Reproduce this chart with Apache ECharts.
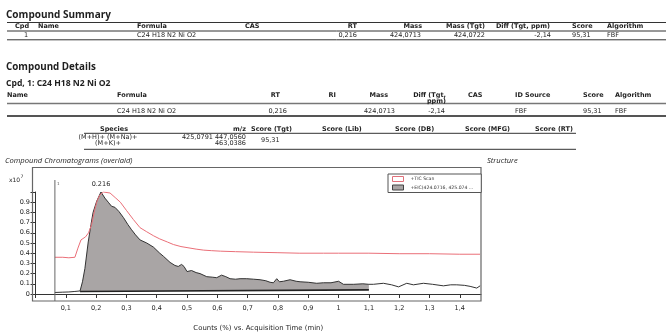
<!DOCTYPE html>
<html>
<head>
<meta charset="utf-8">
<script src="https://cdn.jsdelivr.net/npm/echarts@6/dist/echarts.min.js"></script>
<style>
  html, body { margin: 0; padding: 0; background: #fff; }
  #c { width: 668px; height: 333px; }
</style>
</head>
<body>
<div id="c"></div>
<script>
const FONT = '"DejaVu Sans", Verdana, sans-serif';
const TITLE_FONT = '"Open Sans", "Noto Sans", sans-serif';

// ---- Compound summary table ----
const summaryHeaders = ['Cpd', 'Name', 'Formula', 'CAS', 'RT', 'Mass', 'Mass (Tgt)', 'Diff (Tgt, ppm)', 'Score', 'Algorithm'];
const summaryRow     = ['1', '', 'C24 H18 N2 Ni O2', '', '0,216', '424,0713', '424,0722', '-2,14', '95,31', 'FBF'];

// ---- Compound details table ----
const detailHeaders = ['Name', 'Formula', 'RT', 'RI', 'Mass', 'Diff (Tgt,\nppm)', 'CAS', 'ID Source', 'Score', 'Algorithm'];
const detailRow     = ['', 'C24 H18 N2 Ni O2', '0,216', '', '424,0713', '-2,14', '', 'FBF', '95,31', 'FBF'];

// ---- Species table ----
const speciesHeaders = ['Species', 'm/z', 'Score (Tgt)', 'Score (Lib)', 'Score (DB)', 'Score (MFG)', 'Score (RT)'];
const speciesRow     = ['(M+H)+ (M+Na)+\n(M+K)+', '425,0791 447,0560\n463,0386', '95,31', '', '', '', ''];

// ---- Chromatograms: [acquisition time (min), counts (x10^7)] ----
const ticScan = [
  [0.064, 0.36], [0.09, 0.36], [0.11, 0.355], [0.13, 0.36], [0.14, 0.45], [0.15, 0.53],
  [0.165, 0.56], [0.175, 0.60], [0.185, 0.68], [0.195, 0.82], [0.203, 0.91], [0.212, 0.97],
  [0.224, 1.0], [0.246, 0.99], [0.265, 0.94], [0.28, 0.90], [0.30, 0.82], [0.323, 0.73],
  [0.345, 0.65], [0.367, 0.61], [0.39, 0.57], [0.41, 0.54], [0.435, 0.51], [0.455, 0.485],
  [0.48, 0.465], [0.50, 0.455], [0.53, 0.44], [0.555, 0.43], [0.58, 0.425], [0.61, 0.42],
  [0.66, 0.415], [0.72, 0.41], [0.80, 0.405], [0.87, 0.40], [0.95, 0.40], [1.0, 0.40],
  [1.1, 0.40], [1.2, 0.395], [1.3, 0.395], [1.4, 0.39], [1.467, 0.39]
];
const eic = [
  [0.064, 0.015], [0.09, 0.018], [0.11, 0.02], [0.13, 0.025], [0.147, 0.03], [0.155, 0.12],
  [0.163, 0.25], [0.174, 0.51], [0.183, 0.68], [0.19, 0.80], [0.202, 0.91], [0.216, 1.0],
  [0.229, 0.94], [0.24, 0.90], [0.251, 0.86], [0.262, 0.85], [0.275, 0.81], [0.29, 0.75],
  [0.305, 0.68], [0.317, 0.63], [0.33, 0.58], [0.345, 0.53], [0.367, 0.50], [0.389, 0.46],
  [0.41, 0.40], [0.422, 0.37], [0.444, 0.31], [0.46, 0.28], [0.471, 0.27], [0.482, 0.29],
  [0.49, 0.27], [0.50, 0.22], [0.515, 0.23], [0.53, 0.21], [0.543, 0.20], [0.565, 0.17],
  [0.583, 0.165], [0.598, 0.16], [0.614, 0.185], [0.628, 0.17], [0.642, 0.15], [0.66, 0.145],
  [0.675, 0.15], [0.697, 0.15], [0.72, 0.145], [0.741, 0.14], [0.76, 0.13], [0.774, 0.115],
  [0.785, 0.11], [0.796, 0.15], [0.805, 0.12], [0.818, 0.125], [0.84, 0.14], [0.86, 0.125],
  [0.873, 0.12], [0.90, 0.115], [0.928, 0.105], [0.95, 0.11], [0.975, 0.11], [1.0, 0.125],
  [1.016, 0.095], [1.05, 0.095], [1.08, 0.10], [1.1, 0.095], [1.115, 0.095], [1.148, 0.105],
  [1.175, 0.09], [1.198, 0.07], [1.225, 0.105], [1.247, 0.09], [1.28, 0.105], [1.31, 0.095],
  [1.346, 0.08], [1.37, 0.09], [1.39, 0.09], [1.415, 0.085], [1.434, 0.075], [1.456, 0.058],
  [1.467, 0.08]
];
// integrated peak region and its baseline
const peakStart = 0.147;
const peakEnd = 1.1;
const integrationBaseline = [[0.147, 0.025], [1.1, 0.04]];

const ticName = '+TIC Scan';
const eicName = '+EIC(424.0716, 425.074 ...';

// ---- layout helpers ----
const TXT = '#1e1e1e';
function txt(x, y, text, opt) {
  opt = opt || {};
  return {
    type: 'text', x: x, y: y, z: 50, silent: true,
    style: {
      text: text,
      fontFamily: opt.family || FONT,
      fontSize: opt.size || 6.5,
      fontWeight: opt.bold ? 'bold' : 'normal',
      fontStyle: opt.italic ? 'italic' : 'normal',
      fill: opt.color || TXT,
      align: opt.align || 'left',
      verticalAlign: 'middle',
      lineHeight: opt.lh || 7
    }
  };
}
function rule(x1, x2, y, w, color) {
  return { type: 'line', z: 40, silent: true,
    shape: { x1: x1, y1: y, x2: x2, y2: y },
    style: { stroke: color || '#444', lineWidth: w || 1 } };
}

// column placements: [x, align]
const summaryCols = [[15, 'left'], [38, 'left'], [137, 'left'], [245, 'left'], [357, 'right'],
  [422, 'right'], [485, 'right'], [550, 'right'], [572, 'left'], [607, 'left']];
const summaryRowCols = [[24, 'left'], [38, 'left'], [137, 'left'], [245, 'left'], [357, 'right'],
  [421, 'right'], [485, 'right'], [551, 'right'], [572, 'left'], [607, 'left']];
const detailCols = [[7, 'left'], [117, 'left'], [280, 'right'], [336, 'right'], [388, 'right'],
  [446, 'right'], [468, 'left'], [515, 'left'], [583, 'left'], [615, 'left']];
const detailRowCols = [[7, 'left'], [117, 'left'], [287, 'right'], [336, 'right'], [395, 'right'],
  [445, 'right'], [468, 'left'], [515, 'left'], [583, 'left'], [615, 'left']];
const speciesCols = [[114, 'center'], [246, 'right'], [251, 'left'], [322, 'left'], [395, 'left'], [465, 'left'], [535, 'left']];
const speciesRowCols = [[108, 'center'], [246, 'right'], [261, 'left'], [322, 'left'], [395, 'left'], [465, 'left'], [535, 'left']];

const graphics = [];
// Compound Summary
graphics.push(txt(6, 15, 'Compound Summary', { size: 10, bold: true, family: TITLE_FONT }));
graphics.push(rule(7, 666, 22.5, 1.2, '#333'));
summaryHeaders.forEach((h, i) => graphics.push(txt(summaryCols[i][0], 26.8, h, { bold: true, align: summaryCols[i][1] })));
graphics.push(rule(7, 666, 31, 1, '#333'));
summaryRow.forEach((v, i) => v && graphics.push(txt(summaryRowCols[i][0], 35.2, v, { align: summaryRowCols[i][1] })));
graphics.push(rule(7, 666, 39.8, 1, '#333'));

// Compound Details
graphics.push(txt(6, 67.5, 'Compound Details', { size: 9.8, bold: true, family: TITLE_FONT }));
graphics.push(txt(6, 83.5, 'Cpd, 1: C24 H18 N2 Ni O2', { size: 8.6, bold: true, family: TITLE_FONT }));
detailHeaders.forEach((h, i) => {
  const two = h.indexOf('\n') >= 0;
  graphics.push(txt(detailCols[i][0], two ? 98.5 : 95.7, h, { bold: true, align: detailCols[i][1], lh: 6 }));
});
graphics.push(rule(7, 666, 103.5, 1.6, '#777'));
detailRow.forEach((v, i) => v && graphics.push(txt(detailRowCols[i][0], 111, v, { align: detailRowCols[i][1] })));
graphics.push(rule(7, 666, 116, 2, '#555'));

// Species
speciesHeaders.forEach((h, i) => graphics.push(txt(speciesCols[i][0], 129.3, h, { bold: true, align: speciesCols[i][1] })));
graphics.push(rule(84, 576, 133.3, 1, '#333'));
speciesRow.forEach((v, i) => v && graphics.push(txt(speciesRowCols[i][0], 140.3, v, { align: speciesRowCols[i][1], lh: 6.6 })));
graphics.push(rule(84, 576, 149.3, 1, '#333'));

// chart captions
graphics.push(txt(5, 160.5, 'Compound Chromatograms (overlaid)', { size: 7.6, italic: true, family: TITLE_FONT }));
graphics.push(txt(487, 161, 'Structure', { size: 7.6, italic: true, family: TITLE_FONT }));
graphics.push(txt(9, 180.5, 'x10', { size: 6 }));
graphics.push(txt(20.5, 177, '7', { size: 4.5 }));

// plot frame
graphics.push({ type: 'rect', z: 1, silent: true,
  shape: { x: 32.5, y: 167.5, width: 448.5, height: 133.5 },
  style: { fill: 'none', stroke: '#666', lineWidth: 1.2 } });

const fmtX = v => String(Math.round(v * 10) / 10).replace('.', ',');
const maxEic = Math.max.apply(null, eic.map(p => p[1]));

const eicArea = eic.filter(p => p[0] >= peakStart && p[0] <= peakEnd);
const eicLine = eic.map(p => p[1] === maxEic
  ? { value: p, label: { show: true, position: 'top', distance: 4, formatter: p[0].toFixed(3),
      fontSize: 6.5, fontFamily: FONT, color: TXT } }
  : p);

const chart = echarts.init(document.getElementById('c'), null, { renderer: 'canvas' });
chart.setOption({
  animation: false,
  backgroundColor: '#fff',
  textStyle: { fontFamily: FONT },
  grid: { left: 35.5, right: 187, top: 192, bottom: 37, containLabel: false },
  legend: {
    orient: 'vertical', left: 388, top: 174,
    padding: [2, 8, 2, 4], itemGap: 2.5, itemWidth: 11, itemHeight: 5,
    borderColor: '#555', borderWidth: 1, backgroundColor: '#fff',
    icon: 'rect', selectedMode: false,
    textStyle: { fontSize: 4.6, color: '#333', fontFamily: FONT, padding: [0, 0, 0, 2] },
    data: [
      { name: ticName, itemStyle: { color: '#fff', borderColor: '#e0707a', borderWidth: 1 } },
      { name: eicName, itemStyle: { color: '#a9a5a5', borderColor: '#444', borderWidth: 1 } }
    ]
  },
  xAxis: {
    type: 'value', min: 0, max: 1.47, interval: 0.1, offset: 7,
    axisLine: { lineStyle: { color: '#333', width: 1 } },
    axisTick: { length: 4, lineStyle: { color: '#333' } },
    axisLabel: { fontSize: 6.5, color: TXT, margin: 4, showMaxLabel: false,
      formatter: v => (v === 0 || Math.abs(v * 10 - Math.round(v * 10)) > 1e-6) ? '' : fmtX(v) },
    splitLine: { show: false },
    name: 'Counts (%) vs. Acquisition Time (min)', nameLocation: 'middle', nameGap: 24,
    nameTextStyle: { fontSize: 6.9, color: TXT }
  },
  yAxis: {
    type: 'value', min: 0, max: 1, interval: 0.1, offset: 3.5,
    axisLine: { show: true, lineStyle: { color: '#333', width: 1 } },
    axisTick: { show: true, inside: false, length: 5, lineStyle: { color: '#333' } },
    axisLabel: { fontSize: 6.5, color: TXT, margin: 2,
      formatter: v => v >= 1 ? '' : String(Math.round(v * 10) / 10) },
    splitLine: { show: false }
  },
  series: [
    { name: eicName, type: 'line', data: eicArea, showSymbol: false, silent: true, z: 2,
      lineStyle: { width: 0, color: '#a9a5a5' }, itemStyle: { color: '#a9a5a5' },
      areaStyle: { color: '#a9a5a5', opacity: 1 } },
    { name: 'integration baseline', type: 'line', data: integrationBaseline, showSymbol: false, silent: true, z: 3,
      lineStyle: { width: 1.6, color: '#222' }, areaStyle: { color: '#fff', opacity: 1 } },
    { name: 'EIC trace', type: 'line', data: eicLine, showSymbol: true, symbolSize: 0, silent: true, z: 4,
      lineStyle: { width: 1, color: '#333' }, itemStyle: { color: '#333' } },
    { name: ticName, type: 'line', data: ticScan, showSymbol: false, silent: true, z: 5,
      lineStyle: { width: 1, color: '#ea6f78' }, itemStyle: { color: '#ea6f78' } }
  ],
  graphic: graphics
});

// scan-start marker drawn through the x scale
const sx = chart.convertToPixel({ gridIndex: 0 }, [ticScan[0][0], 0])[0];
graphics.push({ type: 'line', z: 30, silent: true,
  shape: { x1: sx, y1: 180, x2: sx, y2: 301 }, style: { stroke: '#666', lineWidth: 1 } });
graphics.push(txt(sx + 2, 184, '1', { size: 4, color: '#555' }));
chart.setOption({ graphic: graphics });
</script>
</body>
</html>
